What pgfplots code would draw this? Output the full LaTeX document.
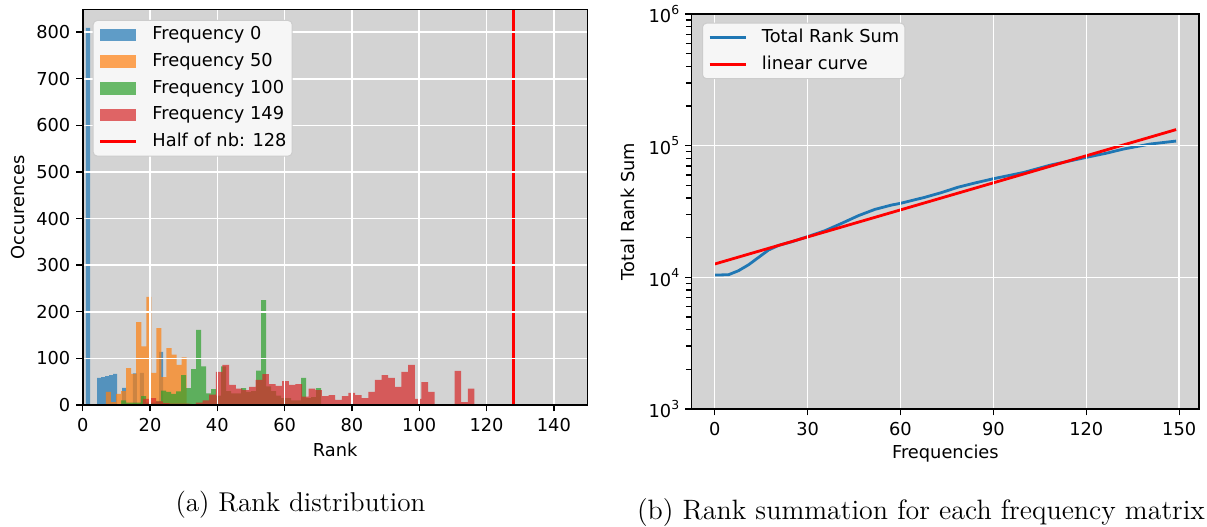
\documentclass[border=0pt]{standalone}
\usepackage{fontspec}
\newfontfamily\djv{DejaVu Sans}
\usepackage{pgfplots}
\pgfplotsset{compat=1.18}

\definecolor{tabblue}{HTML}{1F77B4}
\definecolor{taborange}{HTML}{FF7F0E}
\definecolor{tabgreen}{HTML}{2CA02C}
\definecolor{tabred}{HTML}{D62728}
\definecolor{axbg}{HTML}{D3D3D3}
\definecolor{legbg}{HTML}{F6F6F6}
\newcommand{\mplfont}{\djv\fontsize{8.9}{10.7}\selectfont}
\newcommand{\sups}[1]{10\raisebox{0.9ex}{\fontsize{6.2}{7}\selectfont #1}}

\pgfplotsset{
  mplstyle/.style={
    scale only axis,
    axis background/.style={fill=axbg},
    axis line style={line width=0.8pt},
    tick style={black, line width=0.7pt},
    tick align=outside,
    major tick length=3.15pt,
    xtick pos=bottom, ytick pos=left,
    xmajorgrids, ymajorgrids,
    major grid style={white, line width=0.75pt},
    axis on top,
    ticklabel style={font=\mplfont},
    xticklabel style={anchor=north, inner sep=0pt, yshift=-3.5pt},
    yticklabel style={anchor=east, inner sep=0pt, xshift=-2.85pt},
    /pgf/number format/assume math mode=true,
    every axis x label/.style={at={(axis description cs:0.5,0)}, anchor=center,
      yshift=-22.2pt, font=\mplfont},
    legend cell align=left,
    legend style={font=\mplfont, fill=legbg, draw=black!20, line width=0.5pt,
      rounded corners=2pt, anchor=north west, inner xsep=2.8pt, inner ysep=3pt,
      row sep=4.95pt, column sep=7.5pt,
      nodes={inner sep=0pt, text height=6.6pt, text depth=1.8pt}},
  },
  histbar/.style={ybar interval, fill=#1, fill opacity=0.7, draw=none,
    legend image code/.code={\fill[sharp corners, fill=#1, fill opacity=0.7] (0pt,-3.15pt) rectangle (18pt,3.15pt);}},
  lineleg/.style={legend image code/.code={\draw[sharp corners, ##1] (0pt,0pt) -- (18pt,0pt);}},
}

\begin{document}
\begin{tikzpicture}
\useasboundingbox (0,0) rectangle (603.5pt,263pt);

% (a) rank distribution
\begin{axis}[mplstyle, at={(41.35pt,60.5pt)}, anchor=south west,
  width=252.4pt, height=197.85pt,
  xmin=0, xmax=150, ymin=0, ymax=849,
  xtick={0,20,...,140}, ytick={0,100,...,800},
  xlabel={Rank}, ylabel={Occurences},
  every axis y label/.style={at={(axis description cs:-0.128,0.5)}, rotate=90,
    anchor=center, font=\mplfont},
  legend style={at={(0.0198,0.973)}}]

\addplot[histbar=tabblue] coordinates {
(0.98,809) (2.17,0) (4.25,58) (5.44,60) (6.63,62) (7.82,64) (9.01,67) (10.2,0)
(11.7,37) (12.9,0) (14.9,68) (16.1,0) (17.0,69) (18.2,0) (22.7,114) (23.9,0)};
\addlegendentry{Frequency 0}

\addplot[histbar=taborange] coordinates {
(5.4,2) (6.9,28) (8.4,6) (9.9,24) (11.4,30) (12.9,79) (14.4,67) (15.9,178)
(17.4,126) (18.9,232) (20.4,69) (21.9,165) (23.4,60) (24.9,122) (26.4,108)
(27.9,86) (29.4,102) (30.9,3) (32.4,2) (33.9,1) (35.4,1) (36.9,0)};
\addlegendentry{Frequency 50}

\addplot[histbar=tabgreen] coordinates {
(11.435,10) (12.92,5) (14.405,5) (15.89,5) (17.375,19) (18.86,5) (20.345,5)
(21.83,8) (23.315,31) (24.8,28) (26.285,24) (27.77,29) (29.255,64) (30.74,36)
(32.225,77) (33.71,161) (35.195,83) (36.68,25) (38.165,34) (39.65,20)
(41.135,83) (42.62,30) (44.105,25) (45.59,25) (47.075,36) (48.56,28)
(50.045,30) (51.53,74) (53.015,225) (54.5,40) (55.985,30) (57.47,20)
(58.955,15) (60.44,15) (61.925,10) (63.41,10) (64.895,58) (66.38,15)
(67.865,17) (69.35,36) (70.835,0)};
\addlegendentry{Frequency 100}

\addplot[histbar=tabred] coordinates {
(17.90,13) (19.87,15) (21.84,8) (23.81,4) (25.78,3) (27.75,3) (29.72,3)
(31.69,2) (33.66,5) (35.63,10) (37.60,22) (39.57,71) (41.54,86) (43.51,43)
(45.48,35) (47.45,32) (49.42,39) (51.39,54) (53.36,66) (55.33,45) (57.30,41)
(59.27,51) (61.24,43) (63.21,45) (65.18,18) (67.15,35) (69.12,32) (71.09,19)
(73.06,21) (75.03,11) (77.00,19) (78.97,26) (80.94,21) (82.91,15) (84.88,28)
(86.85,54) (88.82,64) (90.79,58) (92.76,39) (94.73,71) (96.70,86) (98.67,13)
(100.64,49) (102.61,28) (104.58,0) (106.55,0) (108.52,0) (110.49,73)
(112.46,6) (114.43,35) (116.40,0)};
\addlegendentry{Frequency 149}

\addplot[red, line width=1.35pt, lineleg] coordinates {(128,0) (128,849)};
\addlegendentry{Half of nb: 128}
\end{axis}

% (b) rank summation
\begin{axis}[mplstyle, at={(345.8pt,58.5pt)}, anchor=south west,
  width=253.8pt, height=197.5pt, clip=false,
  ymode=log, xmin=-7.45, xmax=156.45, ymin=1000, ymax=1000000,
  xtick={0,30,...,150}, ytick={1000,10000,100000,1000000},
  minor ytick={},
  yticklabels={\sups{3},\sups{4},\sups{5},\sups{6}},
  xlabel={Frequencies}, ylabel={Total Rank Sum},
  every axis y label/.style={at={(axis description cs:-0.125,0.5)}, rotate=90,
    anchor=center, font=\mplfont},
  legend style={at={(0.0205,0.978)}}]

% minor ticks of the log axis
\pgfplotsinvokeforeach{2000,3000,4000,5000,6000,7000,8000,9000,
    20000,30000,40000,50000,60000,70000,80000,90000,
    200000,300000,400000,500000,600000,700000,800000,900000}{
  \draw[black, line width=0.6pt] (axis cs:-7.45,#1) -- ++(-2pt,0pt);
}

\addplot[tabblue, line width=1.4pt, lineleg] coordinates {
(0,10400) (4.5,10470) (7.7,11230) (11,12480) (14.2,14190) (17.4,16130)
(20.7,17500) (25,18660) (30,20370) (35.6,22600) (41,25700) (46.4,29400)
(51.7,32800) (57.1,35400) (60,36500) (67.8,40500) (73.2,44000) (78.5,48300)
(83.9,52000) (90,56100) (99.9,62700) (108.5,71300) (116,77800) (120,81500)
(126.7,87900) (132,94300) (140.7,103000) (149,108400)};
\addlegendentry{Total Rank Sum}

\addplot[red, line width=1.4pt, lineleg] coordinates {(0,12620) (149,132500)};
\addlegendentry{linear curve}
\end{axis}

\node[font=\fontsize{13.6}{16}\selectfont] at (150.25pt,10.5pt) {(a) Rank distribution};
\node[font=\fontsize{14}{16.5}\selectfont] at (460.5pt,6.5pt) {(b) Rank summation for each frequency matrix};
\end{tikzpicture}
\end{document}
